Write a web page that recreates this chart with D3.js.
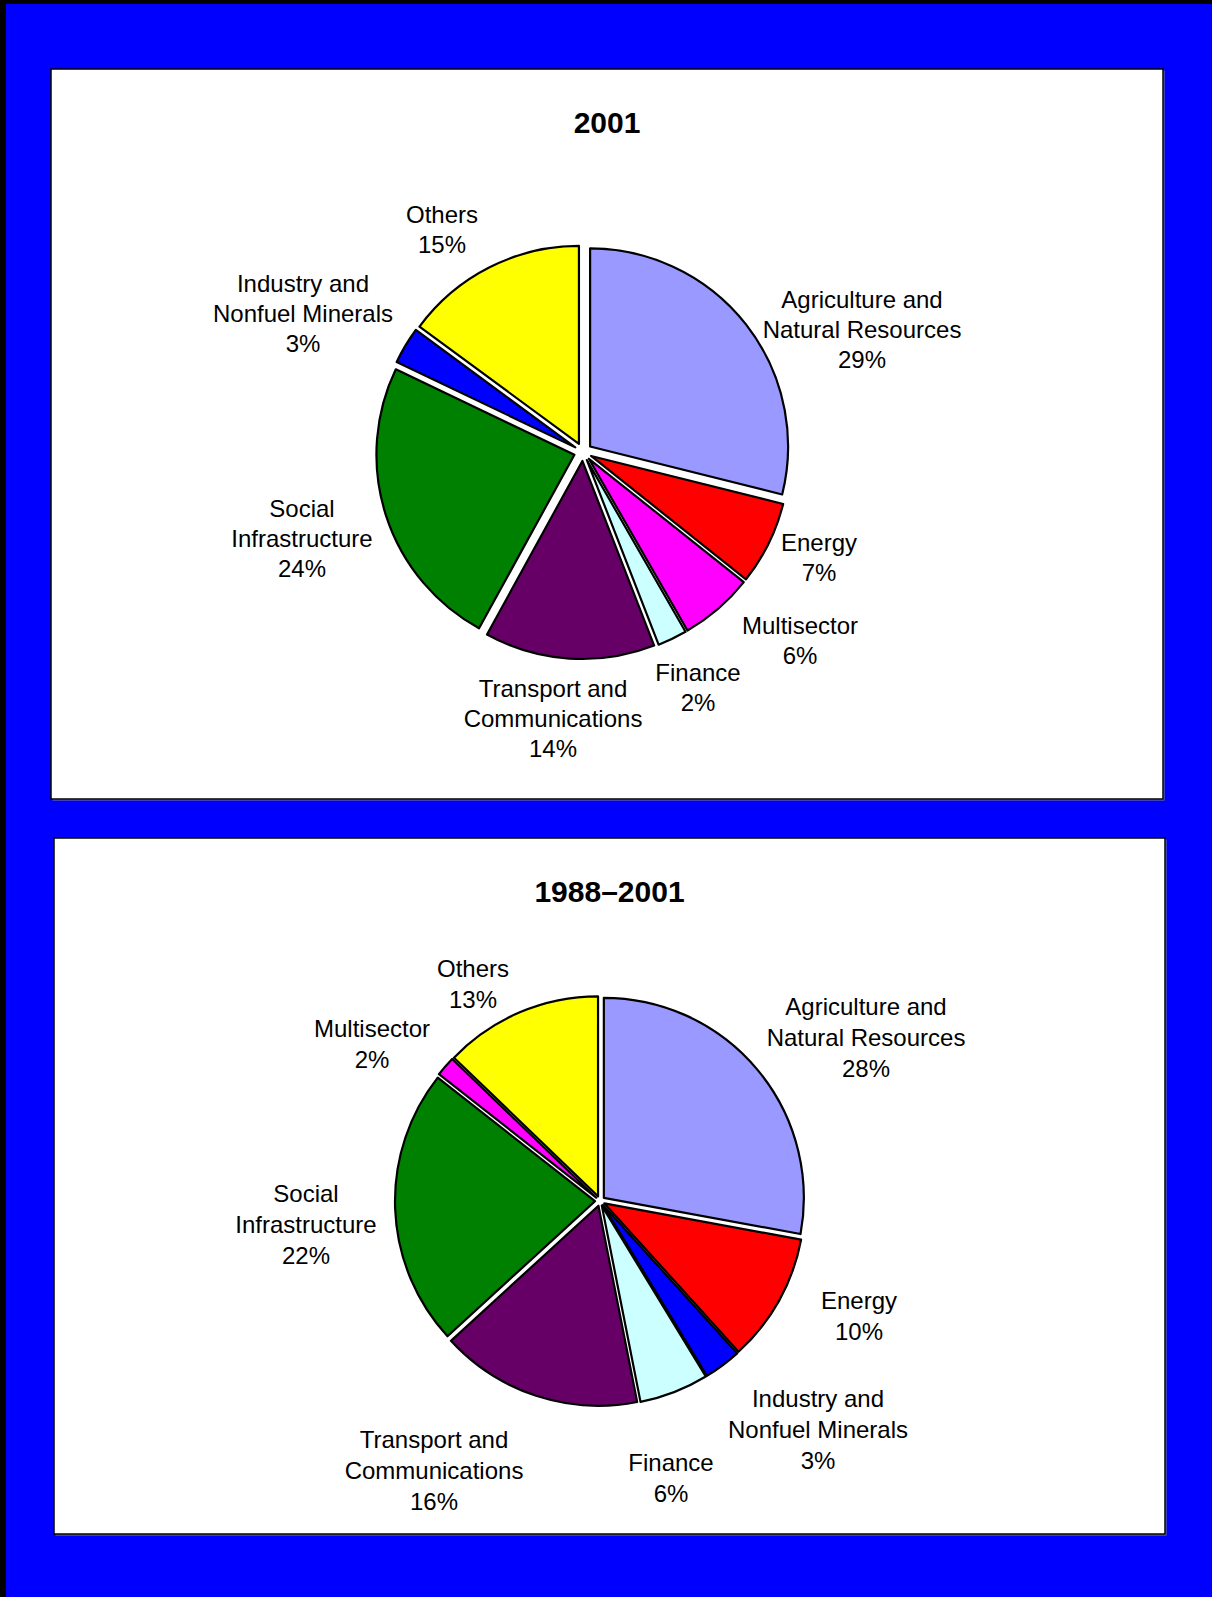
<!DOCTYPE html>
<html>
<head>
<meta charset="utf-8">
<script src="https://cdn.jsdelivr.net/npm/d3@7"></script>
<style>
  body { margin: 0; background: #0000ff; }
  svg { display: block; }
  text { font-family: "Liberation Sans", Arial, sans-serif; fill: #000; }
</style>
</head>
<body>
<div class="canva"></div>
<script>
// ---- data ----
const titles = ["2001", "1988\u20132001"];

const sectors2001 = ["Agriculture and\nNatural Resources", "Energy", "Multisector", "Finance",
                     "Transport and\nCommunications", "Social\nInfrastructure",
                     "Industry and\nNonfuel Minerals", "Others"];
// shares; labels show them rounded
const shares2001 = [28.9, 6.8, 6.0, 2.4, 13.9, 24.1, 3.0, 14.9];

const sectors8801 = ["Agriculture and\nNatural Resources", "Energy", "Industry and\nNonfuel Minerals",
                     "Finance", "Transport and\nCommunications", "Social\nInfrastructure",
                     "Multisector", "Others"];
const shares8801 = [27.9, 10.4, 3.0, 5.6, 16.3, 22.4, 1.6, 12.8];

const colorKeys = ["Agriculture and\nNatural Resources", "Energy", "Multisector", "Finance",
                   "Transport and\nCommunications", "Social\nInfrastructure",
                   "Industry and\nNonfuel Minerals", "Others"];
const colorValues = ["#9999ff", "#ff0000", "#ff00ff", "#ccffff", "#660066", "#008000", "#0000ff", "#ffff00"];

// ---- layout ----
const W = 1212, H = 1597;
const color = d3.scaleOrdinal().domain(colorKeys).range(colorValues);
const pct = d3.format(".0f");

// label placement (first baseline, relative to pie centre), one per slice
const labelPos2001 = [[279, -144], [236, 99], [217, 182], [115, 229], [-30, 245], [-281, 65], [-280, -160], [-141, -229]];
const labelPos8801 = [[266, -186], [259, 108], [218, 206], [71, 270], [-166, 247], [-294, 1], [-228, -164], [-127, -224]];

const charts = [
  {title: titles[0], names: sectors2001, values: shares2001, labels: labelPos2001,
   panel: {x: 51, y: 69, w: 1112, h: 730}, cx: 583, cy: 452, r: 198, explode: 9, lh: 30},
  {title: titles[1], names: sectors8801, values: shares8801, labels: labelPos8801,
   panel: {x: 54, y: 838, w: 1111, h: 696}, cx: 600, cy: 1201, r: 200, explode: 5, lh: 31}
];

const svg = d3.select(".canva").append("svg")
  .attr("width", W)
  .attr("height", H);

svg.append("rect").attr("width", W).attr("height", H).attr("fill", "#0000ff");
// black frame at top / left edge
svg.append("rect").attr("x", 0).attr("y", 0).attr("width", W).attr("height", 4).attr("fill", "#000");
svg.append("rect").attr("x", 0).attr("y", 0).attr("width", 6).attr("height", H).attr("fill", "#000");

const pie = d3.pie().sort(null).value(d => d.value);

charts.forEach(c => {
  const p = c.panel;
  svg.append("rect")
    .attr("x", p.x + 1.5).attr("y", p.y + 1.5)
    .attr("width", p.w).attr("height", p.h)
    .attr("fill", "#808080");
  svg.append("rect")
    .attr("x", p.x).attr("y", p.y)
    .attr("width", p.w).attr("height", p.h)
    .attr("fill", "#fff")
    .attr("stroke", "#000")
    .attr("stroke-width", 1.5);

  svg.append("text")
    .attr("x", p.x + p.w / 2)
    .attr("y", p.y + 64)
    .attr("text-anchor", "middle")
    .attr("font-size", 30)
    .attr("font-weight", "bold")
    .text(c.title);

  const data = c.names.map((n, i) => ({name: n, value: c.values[i], pos: c.labels[i]}));
  const arcPath = d3.arc().innerRadius(0).outerRadius(c.r);

  const g = svg.append("g").attr("transform", `translate(${c.cx},${c.cy})`);

  g.selectAll("path")
    .data(pie(data))
    .enter()
    .append("path")
    .attr("d", arcPath)
    .attr("transform", d => {
      const a = (d.startAngle + d.endAngle) / 2;
      return `translate(${c.explode * Math.sin(a)},${-c.explode * Math.cos(a)})`;
    })
    .attr("fill", d => color(d.data.name))
    .attr("stroke", "#000")
    .attr("stroke-width", 2.2)
    .attr("stroke-linejoin", "round");

  const labels = g.selectAll("text.lbl")
    .data(data)
    .enter()
    .append("text")
    .attr("class", "lbl")
    .attr("text-anchor", "middle")
    .attr("font-size", 24);

  labels.each(function(d) {
    const lines = d.name.split("\n").concat([pct(d.value) + "%"]);
    d3.select(this).selectAll("tspan")
      .data(lines)
      .enter()
      .append("tspan")
      .attr("x", d.pos[0])
      .attr("y", (t, i) => d.pos[1] + i * c.lh)
      .text(t => t);
  });
});
</script>
</body>
</html>
